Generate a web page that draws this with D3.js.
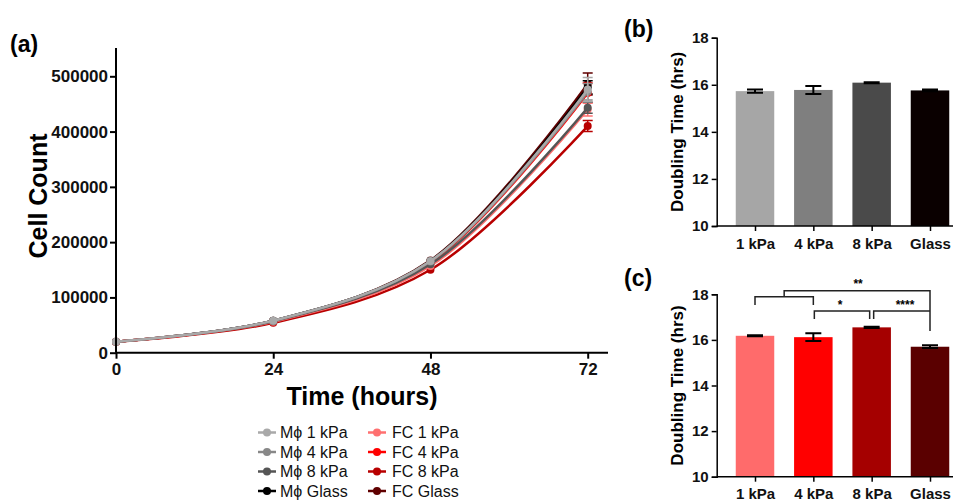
<!DOCTYPE html>
<html>
<head>
<meta charset="utf-8">
<script src="https://cdn.jsdelivr.net/npm/d3@7"></script>
<style>
  body { margin: 0; background: #fff; }
  text { font-family: Arial, "Liberation Sans", sans-serif; }
</style>
</head>
<body>
<svg width="963" height="502"></svg>
<script>
// growth curves, panel (a)
var times = [0, 24, 48, 72]
var mphi1 = [20000, 58000, 166000, 476000]
var mphi4 = [20000, 58000, 165000, 472000]
var mphi8 = [20000, 57000, 160000, 443000]
var mphiGlass = [20000, 58000, 166000, 480000]
var fc1 = [20000, 56000, 157000, 440000]
var fc4 = [20000, 57000, 163000, 470000]
var fc8 = [20000, 54000, 150000, 410000]
var fcGlass = [20000, 58000, 167000, 486000]
var sd72 = { mphi1: 22000, mphi4: 15000, mphi8: 10000, mphiGlass: 12000, fc1: 12000, fc4: 18000, fc8: 10000, fcGlass: 20000 }

// doubling times, panels (b) and (c)
var substrates = ['1 kPa', '4 kPa', '8 kPa', 'Glass']
var mphiDoubling = [15.73, 15.78, 16.09, 15.76]
var mphiErr = [0.07, 0.17, 0.02, 0.04]
var fcDoubling = [16.18, 16.12, 16.55, 15.70]
var fcErr = [0.02, 0.17, 0.03, 0.06]

var svg = d3.select('svg')

// ---------- panel (a) ----------
var x = d3.scaleLinear().domain([0, 72]).range([116, 587.7])
var y = d3.scaleLinear().domain([0, 500000]).range([352.7, 76.3])

var series = [
  { key: 'fc1', name: 'FC 1 kPa', vals: fc1, color: '#ff7070' },
  { key: 'fc4', name: 'FC 4 kPa', vals: fc4, color: '#ff0000' },
  { key: 'fc8', name: 'FC 8 kPa', vals: fc8, color: '#b80000' },
  { key: 'fcGlass', name: 'FC Glass', vals: fcGlass, color: '#600000' },
  { key: 'mphi1', name: 'M\u03d5 1 kPa', vals: mphi1, color: '#a9a9a9' },
  { key: 'mphi4', name: 'M\u03d5 4 kPa', vals: mphi4, color: '#888888' },
  { key: 'mphi8', name: 'M\u03d5 8 kPa', vals: mphi8, color: '#555555' },
  { key: 'mphiGlass', name: 'M\u03d5 Glass', vals: mphiGlass, color: '#000000' }
]
// draw order: dark first, light grey on top (as in the figure)
var drawOrder = ['fcGlass', 'mphiGlass', 'fc8', 'fc4', 'fc1', 'mphi8', 'mphi4', 'mphi1']

var line = d3.line()
  .x(function (d, i) { return x(times[i]) })
  .y(function (d) { return y(d) })
  .curve(d3.curveCatmullRom.alpha(0.5))

var ga = svg.append('g')
drawOrder.forEach(function (k) {
  var s = series.find(function (d) { return d.key === k })
  var g = ga.append('g')
  var e = sd72[k]
  var v = s.vals[3]
  g.append('path')
    .attr('d', 'M' + x(72) + ',' + y(v - e) + 'V' + y(v + e) +
      'M' + (x(72) - 5) + ',' + y(v + e) + 'H' + (x(72) + 5) +
      'M' + (x(72) - 5) + ',' + y(v - e) + 'H' + (x(72) + 5))
    .attr('stroke', s.color).attr('stroke-width', 1.5).attr('fill', 'none')
  g.append('path')
    .datum(s.vals)
    .attr('fill', 'none')
    .attr('stroke', s.color)
    .attr('stroke-width', 2.5)
    .attr('d', line)
  g.selectAll('circle').data(s.vals).enter().append('circle')
    .attr('cx', function (d, i) { return x(times[i]) })
    .attr('cy', function (d) { return y(d) })
    .attr('r', 4)
    .attr('fill', s.color)
})

var yAxA = svg.append('g')
  .attr('transform', 'translate(116,0)')
  .call(d3.axisLeft(y).tickValues([0, 100000, 200000, 300000, 400000, 500000]).tickSize(6).tickPadding(2).tickFormat(d3.format('d')))
yAxA.select('.domain').attr('d', 'M0,' + y(0) + 'V48').attr('stroke-width', 2)
yAxA.selectAll('.tick line').attr('stroke-width', 2)
yAxA.selectAll('text').attr('font-size', 17).attr('font-weight', 'bold').attr('fill', '#111')
  .attr('font-family', 'Arial, "Liberation Sans", sans-serif')

var xAxA = svg.append('g')
  .attr('transform', 'translate(0,' + y(0) + ')')
  .call(d3.axisBottom(x).tickValues(times).tickSize(6).tickPadding(4))
xAxA.select('.domain').attr('d', 'M116,0H608').attr('stroke-width', 2)
xAxA.selectAll('.tick line').attr('stroke-width', 2)
xAxA.selectAll('text').attr('font-size', 17).attr('font-weight', 'bold').attr('fill', '#111')
  .attr('font-family', 'Arial, "Liberation Sans", sans-serif')

svg.append('text').attr('x', 10).attr('y', 52).text('(a)')
  .attr('font-size', 23).attr('font-weight', 'bold')
svg.append('text')
  .attr('transform', 'translate(38,196) rotate(-90)')
  .attr('text-anchor', 'middle').attr('dy', '0.35em')
  .attr('font-size', 25).attr('font-weight', 'bold')
  .text('Cell Count')
svg.append('text').attr('x', 362).attr('y', 405)
  .attr('text-anchor', 'middle')
  .attr('font-size', 25).attr('font-weight', 'bold')
  .text('Time (hours)')

// legend
var legendCols = [series.slice(4), series.slice(0, 4)]
legendCols.forEach(function (col, ci) {
  var lx = ci === 0 ? 267 : 377
  col.forEach(function (s, ri) {
    var ly = 432.5 + ri * 19.5
    var lg = svg.append('g').attr('transform', 'translate(' + lx + ',' + ly + ')')
    lg.append('line').attr('x1', -9).attr('x2', 9).attr('stroke', s.color).attr('stroke-width', 2.5)
    lg.append('circle').attr('r', 4).attr('fill', s.color)
    lg.append('text').attr('x', ci === 0 ? 13 : 15).attr('dy', '0.35em')
      .attr('font-size', 16).attr('fill', '#111').text(s.name)
  })
})

// ---------- panels (b) and (c) ----------
function barPanel (label, labelY, yTop, yBottom, vals, errs, colors) {
  var bx = d3.scalePoint().domain(substrates).range([755, 930])
  var by = d3.scaleLinear().domain([10, 18]).range([yBottom, yTop])
  var bw = bx.step() * 0.66
  var g = svg.append('g')

  g.selectAll('rect').data(vals).enter().append('rect')
    .attr('x', function (d, i) { return bx(substrates[i]) - bw / 2 })
    .attr('y', function (d) { return by(d) })
    .attr('width', bw)
    .attr('height', function (d) { return by(10) - by(d) })
    .attr('fill', function (d, i) { return colors[i] })

  vals.forEach(function (v, i) {
    var cx = bx(substrates[i])
    g.append('path')
      .attr('d', 'M' + cx + ',' + by(v) + 'V' + by(v + errs[i]) +
        'M' + (cx - 8) + ',' + by(v + errs[i]) + 'H' + (cx + 8) +
        'M' + (cx - 8) + ',' + by(v - errs[i]) + 'H' + (cx + 8) +
        'M' + cx + ',' + by(v) + 'V' + by(v - errs[i]))
      .attr('stroke', '#000').attr('stroke-width', 2).attr('fill', 'none')
  })

  var ya = g.append('g').attr('transform', 'translate(716.7,0)')
    .call(d3.axisLeft(by).tickValues([10, 12, 14, 16, 18]).tickSize(5).tickPadding(3))
  ya.select('.domain').attr('stroke-width', 1.5)
  ya.selectAll('.tick line').attr('stroke-width', 1.5)
  ya.selectAll('text').attr('font-size', 15).attr('font-weight', 'bold').attr('fill', '#111')
    .attr('font-family', 'Arial, "Liberation Sans", sans-serif')

  var xa = g.append('g').attr('transform', 'translate(0,' + yBottom + ')')
    .call(d3.axisBottom(bx).tickSize(5).tickPadding(7))
  xa.select('.domain').attr('d', 'M716.7,0H953').attr('stroke-width', 1.5)
  xa.selectAll('.tick line').attr('stroke-width', 1.5)
  xa.selectAll('text').attr('font-size', 15).attr('font-weight', 'bold').attr('fill', '#111')
    .attr('font-family', 'Arial, "Liberation Sans", sans-serif')

  g.append('text')
    .attr('transform', 'translate(677,' + (yTop + yBottom) / 2 + ') rotate(-90)')
    .attr('text-anchor', 'middle').attr('dy', '0.35em')
    .attr('font-size', 17).attr('font-weight', 'bold')
    .text('Doubling Time (hrs)')
  g.append('text').attr('x', 624).attr('y', labelY).text(label)
    .attr('font-size', 23).attr('font-weight', 'bold')
  return { x: bx, y: by, g: g }
}

barPanel('(b)', 37, 37.7, 226, mphiDoubling, mphiErr, ['#a6a6a6', '#7f7f7f', '#4a4a4a', '#0a0000'])
var pc = barPanel('(c)', 286, 294.3, 476.7, fcDoubling, fcErr, ['#ff6b6b', '#ff0000', '#a50000', '#5a0000'])

// significance brackets in (c)
var c1 = pc.x('1 kPa'), c4 = pc.x('4 kPa'), c8 = pc.x('8 kPa'), cg = pc.x('Glass')
var mid14 = (c1 + c4) / 2
var sig = pc.g.append('g').attr('stroke', '#222').attr('stroke-width', 1.5).attr('fill', 'none')
sig.append('path').attr('d', 'M' + c1 + ',305V296.7H' + c4 + 'V305')
sig.append('path').attr('d', 'M' + mid14 + ',296.7V290.7H' + cg + 'V331')
sig.append('path').attr('d', 'M' + (c4 + 1) + ',319V311H' + (c8 - 2) + 'V319')
sig.append('path').attr('d', 'M' + (c8 + 2) + ',319V311H' + cg)
var stars = [['**', (mid14 + cg) / 2 + 1, 288], ['*', 840, 309], ['****', 905, 309]]
stars.forEach(function (s) {
  pc.g.append('text').attr('x', s[1]).attr('y', s[2])
    .attr('text-anchor', 'middle').attr('font-size', 12).attr('font-weight', 'bold')
    .text(s[0])
})
</script>
</body>
</html>
